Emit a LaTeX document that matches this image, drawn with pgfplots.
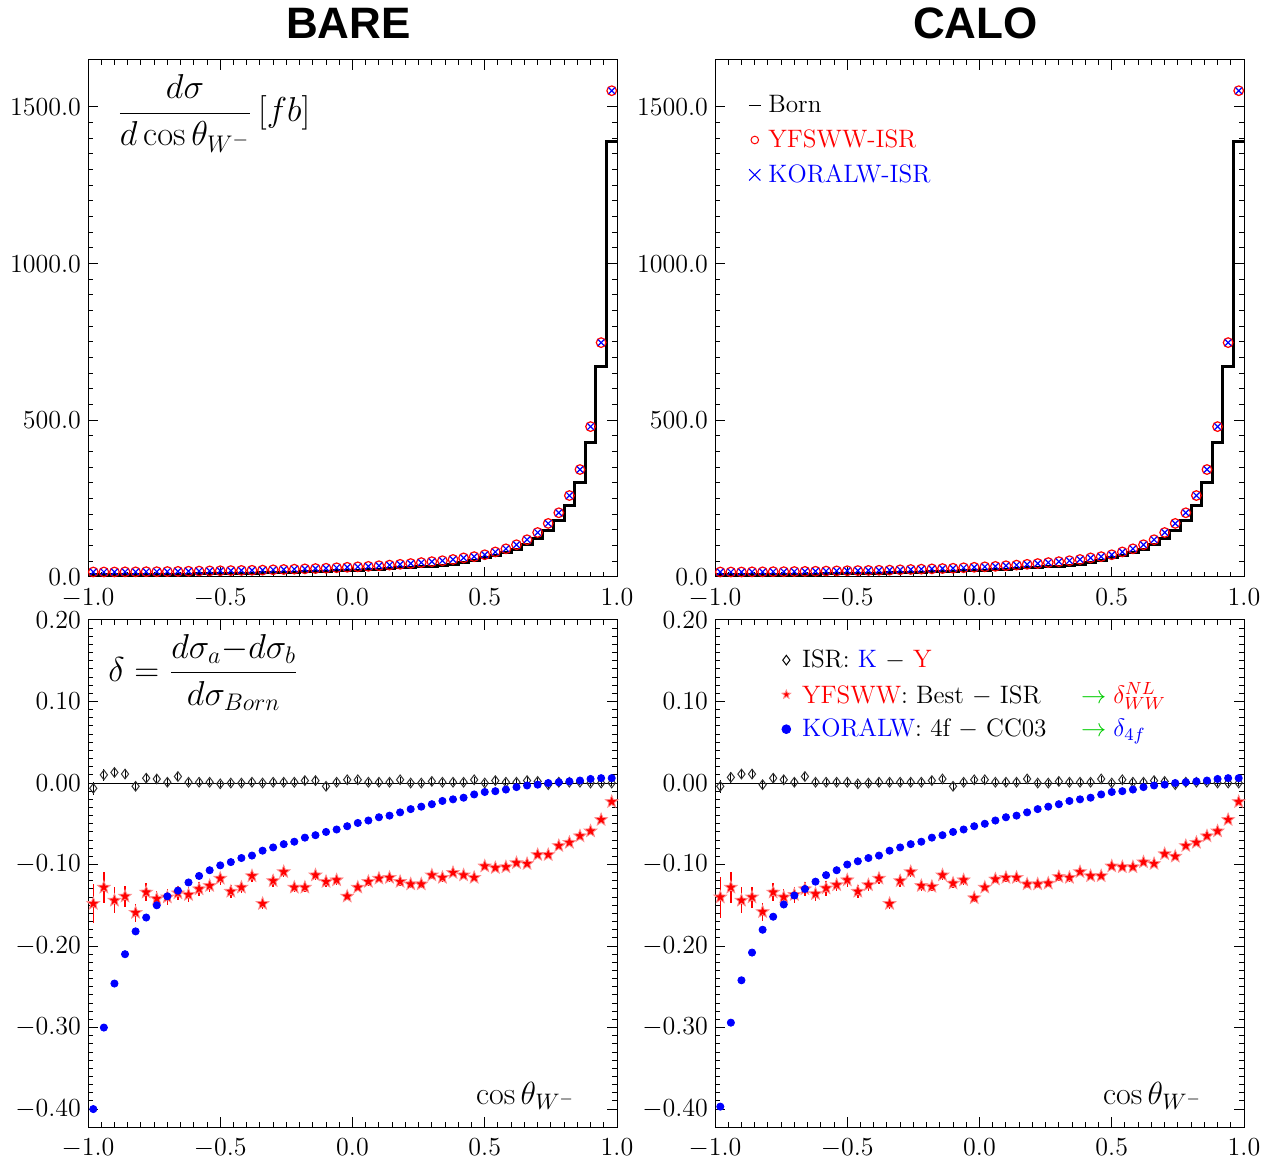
\RequirePackage{fix-cm}
\documentclass[border=0pt]{standalone}
\usepackage{fontspec}
\usepackage{pgfplots}
\usepackage{pgfplotstable}
\pgfplotsset{compat=1.18}
\usetikzlibrary{plotmarks}
\newfontfamily\titlefont{Liberation Sans}
\definecolor{argreen}{rgb}{0,0.8,0}

\pgfdeclareplotmark{fstar}{%
  \pgfpathmoveto{\pgfpointpolar{90}{\pgfplotmarksize}}%
  \pgfpathlineto{\pgfpointpolar{126}{0.42\pgfplotmarksize}}%
  \pgfpathlineto{\pgfpointpolar{162}{\pgfplotmarksize}}%
  \pgfpathlineto{\pgfpointpolar{198}{0.42\pgfplotmarksize}}%
  \pgfpathlineto{\pgfpointpolar{234}{\pgfplotmarksize}}%
  \pgfpathlineto{\pgfpointpolar{270}{0.42\pgfplotmarksize}}%
  \pgfpathlineto{\pgfpointpolar{306}{\pgfplotmarksize}}%
  \pgfpathlineto{\pgfpointpolar{342}{0.42\pgfplotmarksize}}%
  \pgfpathlineto{\pgfpointpolar{18}{\pgfplotmarksize}}%
  \pgfpathlineto{\pgfpointpolar{54}{0.42\pgfplotmarksize}}%
  \pgfpathclose
  \pgfusepathqfillstroke
}

\pgfplotstableread{
x born
-1.00 7.3
-0.96 7.4
-0.92 7.5
-0.88 7.7
-0.84 7.9
-0.80 8.1
-0.76 8.4
-0.72 8.7
-0.68 9.0
-0.64 9.3
-0.60 9.7
-0.56 10.1
-0.52 10.6
-0.48 11.1
-0.44 11.7
-0.40 12.3
-0.36 13.0
-0.32 13.7
-0.28 14.5
-0.24 15.4
-0.20 16.4
-0.16 17.5
-0.12 18.6
-0.08 19.8
-0.04 21.0
0.00 22.2
0.04 23.5
0.08 25.2
0.12 27.0
0.16 29.0
0.20 31.0
0.24 33.0
0.28 35.0
0.32 37.5
0.36 40
0.40 47
0.44 54
0.48 61
0.52 69
0.56 79
0.60 88
0.64 104
0.68 122
0.72 149
0.76 180
0.80 229
0.84 301
0.88 429
0.92 671
0.96 1389
1.00 1389
}\borntab

\pgfplotstableread{
x isr
-0.98 16
-0.94 16
-0.90 16
-0.86 16.5
-0.82 16.5
-0.78 17
-0.74 17
-0.70 17.5
-0.66 18
-0.62 18.5
-0.58 19
-0.54 19.5
-0.50 20
-0.46 20.5
-0.42 21
-0.38 21.5
-0.34 22
-0.30 23
-0.26 24
-0.22 25
-0.18 26
-0.14 27
-0.10 28
-0.06 29.5
-0.02 31
0.02 32.5
0.06 34
0.10 36
0.14 38
0.18 40.5
0.22 43
0.26 46
0.30 49
0.34 52
0.38 56
0.42 61
0.46 65
0.50 71
0.54 80
0.58 90
0.62 103
0.66 119
0.70 142
0.74 171
0.78 205
0.82 260
0.86 343
0.90 480
0.94 748
0.98 1552
}\isrtab

\pgfplotstableread{
x dia diae star stare dot
-0.98 -0.0065 0.008 -0.148 0.024 -0.400
-0.94 0.010 0.007 -0.128 0.019 -0.300
-0.90 0.013 0.006 -0.144 0.016 -0.246
-0.86 0.011 0.006 -0.139 0.013 -0.210
-0.82 -0.004 0.005 -0.159 0.011 -0.182
-0.78 0.006 0.005 -0.134 0.011 -0.165
-0.74 0.005 0.005 -0.142 0.010 -0.150
-0.70 0.001 0.005 -0.140 0.010 -0.139
-0.66 0.008 0.005 -0.135 0.009 -0.132
-0.62 0.001 0.004 -0.137 0.009 -0.122
-0.58 0.001 0.004 -0.130 0.009 -0.114
-0.54 0.001 0.004 -0.126 0.008 -0.107
-0.50 -0.001 0.004 -0.117 0.008 -0.101
-0.46 0.000 0.004 -0.133 0.008 -0.097
-0.42 0.000 0.004 -0.128 0.007 -0.092
-0.38 0.001 0.004 -0.114 0.007 -0.089
-0.34 0.000 0.004 -0.148 0.007 -0.083
-0.30 0.001 0.004 -0.120 0.007 -0.079
-0.26 0.001 0.004 -0.109 0.006 -0.075
-0.22 0.001 0.004 -0.128 0.006 -0.072
-0.18 0.003 0.004 -0.128 0.006 -0.067
-0.14 0.003 0.004 -0.113 0.006 -0.064
-0.10 -0.004 0.004 -0.121 0.006 -0.060
-0.06 0.001 0.004 -0.119 0.006 -0.057
-0.02 0.004 0.004 -0.139 0.005 -0.053
0.02 0.004 0.004 -0.128 0.005 -0.049
0.06 0.001 0.004 -0.121 0.005 -0.046
0.10 0.001 0.004 -0.117 0.005 -0.042
0.14 0.001 0.004 -0.116 0.005 -0.040
0.18 0.004 0.004 -0.121 0.005 -0.036
0.22 0.000 0.004 -0.124 0.005 -0.032
0.26 0.000 0.004 -0.124 0.005 -0.029
0.30 0.002 0.004 -0.113 0.005 -0.026
0.34 0.001 0.004 -0.116 0.005 -0.022
0.38 0.001 0.004 -0.110 0.004 -0.020
0.42 0.001 0.004 -0.113 0.004 -0.018
0.46 0.004 0.004 -0.116 0.004 -0.014
0.50 0.000 0.004 -0.102 0.004 -0.011
0.54 0.003 0.004 -0.104 0.004 -0.010
0.58 0.001 0.004 -0.103 0.004 -0.008
0.62 0.001 0.004 -0.098 0.004 -0.005
0.66 0.003 0.004 -0.099 0.004 -0.003
0.70 0.002 0.004 -0.088 0.004 -0.002
0.74 -0.002 0.004 -0.088 0.004 0.000
0.78 0.001 0.004 -0.077 0.004 0.001
0.82 0.001 0.004 -0.073 0.003 0.002
0.86 0.001 0.004 -0.065 0.003 0.003
0.90 0.000 0.004 -0.059 0.003 0.005
0.94 0.000 0.004 -0.045 0.003 0.006
0.98 0.000 0.004 -0.023 0.003 0.006
}\baretab

\pgfplotstableread{
x dia diae star stare dot
-0.98 -0.004 0.008 -0.140 0.025 -0.397
-0.94 0.007 0.007 -0.128 0.019 -0.294
-0.90 0.011 0.006 -0.144 0.016 -0.242
-0.86 0.011 0.006 -0.140 0.013 -0.208
-0.82 -0.002 0.005 -0.158 0.011 -0.180
-0.78 0.006 0.005 -0.134 0.011 -0.164
-0.74 0.004 0.005 -0.140 0.010 -0.149
-0.70 0.001 0.005 -0.137 0.010 -0.138
-0.66 0.008 0.005 -0.130 0.009 -0.130
-0.62 0.001 0.004 -0.136 0.009 -0.121
-0.58 0.001 0.004 -0.129 0.009 -0.113
-0.54 0.001 0.004 -0.125 0.008 -0.107
-0.50 0.001 0.004 -0.119 0.008 -0.100
-0.46 -0.001 0.004 -0.133 0.008 -0.096
-0.42 0.000 0.004 -0.125 0.007 -0.092
-0.38 0.001 0.004 -0.117 0.007 -0.089
-0.34 0.001 0.004 -0.148 0.007 -0.083
-0.30 0.001 0.004 -0.120 0.007 -0.079
-0.26 0.001 0.004 -0.109 0.006 -0.075
-0.22 0.001 0.004 -0.126 0.006 -0.072
-0.18 0.003 0.004 -0.127 0.006 -0.067
-0.14 0.005 0.004 -0.113 0.006 -0.064
-0.10 -0.004 0.004 -0.123 0.006 -0.060
-0.06 0.001 0.004 -0.119 0.006 -0.057
-0.02 0.004 0.004 -0.141 0.005 -0.053
0.02 0.004 0.004 -0.128 0.005 -0.050
0.06 0.001 0.004 -0.118 0.005 -0.046
0.10 0.001 0.004 -0.116 0.005 -0.042
0.14 0.001 0.004 -0.116 0.005 -0.040
0.18 0.005 0.004 -0.124 0.005 -0.036
0.22 0.000 0.004 -0.124 0.005 -0.032
0.26 0.000 0.004 -0.123 0.005 -0.029
0.30 0.002 0.004 -0.115 0.005 -0.026
0.34 0.001 0.004 -0.116 0.005 -0.022
0.38 0.001 0.004 -0.109 0.004 -0.020
0.42 0.001 0.004 -0.114 0.004 -0.018
0.46 0.005 0.004 -0.114 0.004 -0.014
0.50 0.000 0.004 -0.102 0.004 -0.011
0.54 0.004 0.004 -0.103 0.004 -0.010
0.58 0.001 0.004 -0.103 0.004 -0.008
0.62 0.001 0.004 -0.097 0.004 -0.005
0.66 0.003 0.004 -0.099 0.004 -0.003
0.70 0.002 0.004 -0.087 0.004 -0.002
0.74 -0.002 0.004 -0.090 0.004 0.000
0.78 0.001 0.004 -0.077 0.004 0.001
0.82 0.001 0.004 -0.073 0.003 0.002
0.86 0.001 0.004 -0.065 0.003 0.003
0.90 0.000 0.004 -0.059 0.003 0.005
0.94 0.000 0.004 -0.045 0.003 0.006
0.98 0.000 0.004 -0.023 0.003 0.006
}\calotab

\pgfplotsset{
  myax/.style={
    scale only axis, width=264.5pt, xmin=-1, xmax=1,
    xtick={-1,-0.5,0,0.5,1}, minor x tick num=9,
    tick align=inside, major tick length=5pt, minor tick length=2.5pt,
    tick style={black, line width=0.5pt},
    axis line style={line width=0.5pt},
    tick label style={font=\fontsize{13}{15}\selectfont},
    xticklabel style={yshift=-2.5pt, /pgf/number format/.cd, fixed, fixed zerofill, precision=1},
    scaled ticks=false,
    /pgf/number format/1000 sep={},
    title style={font=\titlefont\bfseries\fontsize{22}{26}\selectfont, xshift=-2pt, yshift=1pt},
  },
  topax/.style={myax, height=258.5pt, ymin=0, ymax=1650,
    ytick={0,500,1000,1500}, minor y tick num=9,
    yticklabel style={/pgf/number format/.cd, fixed, fixed zerofill, precision=1}},
  botax/.style={myax, height=253.5pt, ymin=-0.422, ymax=0.2,
    ytick={-0.4,-0.3,-0.2,-0.1,0,0.1,0.2}, minor y tick num=9,
    yticklabel style={/pgf/number format/.cd, fixed, fixed zerofill, precision=2}},
}

\newcommand{\tophist}{%
  \addplot[black, line width=1.5pt, const plot, legend image code/.code={\draw[black, line width=0.6pt] (-3pt,0pt) -- (3pt,0pt);}] table[x=x,y=born]{\borntab};
  \addplot[only marks, mark=o, mark size=2.4pt, red, mark options={line width=0.6pt},
    legend image code/.code={\draw[red, line width=0.5pt] (0pt,0pt) circle (1.9pt);}] table[x=x,y=isr]{\isrtab};
  \addplot[only marks, mark=x, mark size=2.2pt, blue, mark options={line width=0.6pt},
    legend image code/.code={\draw[blue, line width=0.5pt] (-2.8pt,-2.8pt) -- (2.8pt,2.8pt) (-2.8pt,2.8pt) -- (2.8pt,-2.8pt);}] table[x=x,y=isr]{\isrtab};
}
\newcommand{\botdata}[1]{%
  \addplot[black, line width=0.5pt, forget plot] coordinates {(-1,0) (1,0)};
  \addplot[only marks, mark=diamond, mark size=2.4pt, black!80, mark options={line width=0.5pt},
    legend image code/.code={\draw[black, line width=0.5pt] (0pt,2.4pt) -- (1.8pt,0pt) -- (0pt,-2.4pt) -- (-1.8pt,0pt) -- cycle;},
    error bars/.cd, y dir=both, y explicit, error mark=none, error bar style={black, line width=0.5pt}]
    table[x=x, y=dia, y error=diae]{#1};
  \addplot[only marks, mark=fstar, mark size=3.3pt, red, mark options={fill=red, draw=red!45, line width=0.4pt},
    legend image code/.code={\draw[red, fill=red] plot[mark=fstar, mark size=2.3pt] coordinates {(0pt,0pt)};},
    error bars/.cd, y dir=both, y explicit, error mark=none, error bar style={red, line width=0.7pt}]
    table[x=x, y=star, y error=stare]{#1};
  \addplot[only marks, mark=*, mark size=1.8pt, blue,
    legend image code/.code={\fill[blue] (0pt,0pt) circle (2.2pt);}] table[x=x, y=dot]{#1};
}

\begin{document}
\begin{tikzpicture}
\path[use as bounding box] (0pt,0pt) rectangle (638pt,-580pt);

% top left
\begin{axis}[topax, at={(44pt,-30pt)}, anchor=north west, title={BARE}]
\tophist
\node[anchor=west, inner sep=0pt, font=\fontsize{17.28}{20}\selectfont] at (rel axis cs:0.055,0.897)
  {$\displaystyle\frac{d\sigma}{d\cos\theta_{W^-}}\,[fb]$};
\end{axis}

% top right
\begin{axis}[topax, at={(357.5pt,-30pt)}, anchor=north west, title={CALO},
  legend style={draw=none, fill=none, at={(0.062,0.94)}, anchor=north west,
    font=\fontsize{12.6}{14.5}\selectfont, row sep=3pt, column sep=1.5pt, inner sep=0pt},
  legend cell align=left]
\tophist
\addlegendentry{Born}
\addlegendentry{\textcolor{red}{YFSWW-ISR}}
\addlegendentry{\textcolor{blue}{KORALW-ISR}}
\end{axis}

% bottom left
\begin{axis}[botax, at={(44pt,-310pt)}, anchor=north west]
\botdata{\baretab}
\node[anchor=west, inner sep=0pt, font=\fontsize{17.28}{20}\selectfont] at (rel axis cs:0.038,0.897)
  {$\displaystyle\delta = \frac{d\sigma_a{-}d\sigma_b}{d\sigma_{Born}}$};
\node[anchor=east, inner sep=0pt, font=\fontsize{16}{19}\selectfont] at (rel axis cs:0.921,0.061)
  {$\cos\theta_{W^-}$};
\end{axis}

% bottom right
\begin{axis}[botax, at={(357.5pt,-310pt)}, anchor=north west,
  legend style={draw=none, fill=none, at={(0.125,0.95)}, anchor=north west,
    font=\fontsize{12.6}{14.5}\selectfont, row sep=2pt, column sep=3.5pt, inner sep=0pt},
  legend cell align=left]
\botdata{\calotab}
\addlegendentry{ISR: \textcolor{blue}{K} $-$ \textcolor{red}{Y}}
\addlegendentry{\makebox[139.5pt][l]{\textcolor{red}{YFSWW}: Best $-$ ISR}\textcolor{argreen}{$\rightarrow$}\;\textcolor{red}{$\delta^{NL}_{WW}$}}
\addlegendentry{\makebox[139.5pt][l]{\textcolor{blue}{KORALW}: 4f $-$ CC03}\textcolor{argreen}{$\rightarrow$}\;\textcolor{blue}{$\delta_{4f}$}}
\node[anchor=east, inner sep=0pt, font=\fontsize{16}{19}\selectfont] at (rel axis cs:0.921,0.061)
  {$\cos\theta_{W^-}$};
\end{axis}
\end{tikzpicture}
\end{document}
